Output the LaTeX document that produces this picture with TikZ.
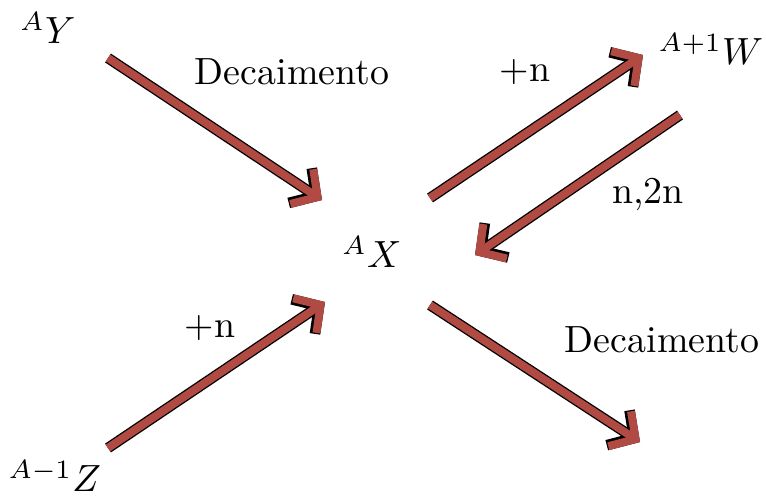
\documentclass[tikz,border=0pt]{standalone}
\usepackage{amsmath,amssymb}
\usepackage{xcolor}
\usepackage{tikz}
\usetikzlibrary{arrows.meta,positioning,calc}

\definecolor{decayred}{RGB}{176,74,66}

\begin{document}
\begin{tikzpicture}[x=0.264pt,y=-0.264pt,
  nuc/.style={inner sep=1pt,font=\normalsize},
  lbl/.style={inner sep=1pt,font=\normalsize},
  fat/.style={line width=2.1pt,draw=decayred,
    -{Straight Barb[length=5pt,width=11pt,line join=miter]},
    preaction={draw=black,line width=2.8pt,
      -{Straight Barb[length=5pt,width=11pt,line join=miter]}}}]
 \useasboundingbox (0,0) rectangle (766,499);
 % nuclides
 \node[nuc] (Y) at (48,28) {${}^{A}Y$};
 \node[nuc] (X) at (372,252) {${}^{A}X$};
 \node[nuc] (W) at (711,49) {${}^{A+1}W$};
 \node[nuc] (Z) at (55,476) {${}^{A-1}Z$};
 % labels
 \node[lbl] (dec1) at (292,72) {Decaimento};
 \node[lbl] (cap1) at (525,72) {+n};
 \node[lbl] (out1) at (648,195) {n,2n};
 \node[lbl] (cap2) at (210,328) {+n};
 \node[lbl] (dec2) at (662,340) {Decaimento};
 % arrow ends
 \coordinate (yOut) at (108,58);   \coordinate (xInY) at (322,200);
 \coordinate (xOutW) at (430,198); \coordinate (wIn) at (643,55);
 \coordinate (wOut) at (680,115);  \coordinate (xInW) at (475,255);
 \coordinate (zOut) at (108,448);  \coordinate (xInZ) at (325,302);
 \coordinate (xOut) at (430,305);  \coordinate (decEnd) at (640,442);
 \draw[fat] (yOut)--(xInY);
 \draw[fat] (xOutW)--(wIn);
 \draw[fat] (wOut)--(xInW);
 \draw[fat] (zOut)--(xInZ);
 \draw[fat] (xOut)--(decEnd);
\end{tikzpicture}
\end{document}
